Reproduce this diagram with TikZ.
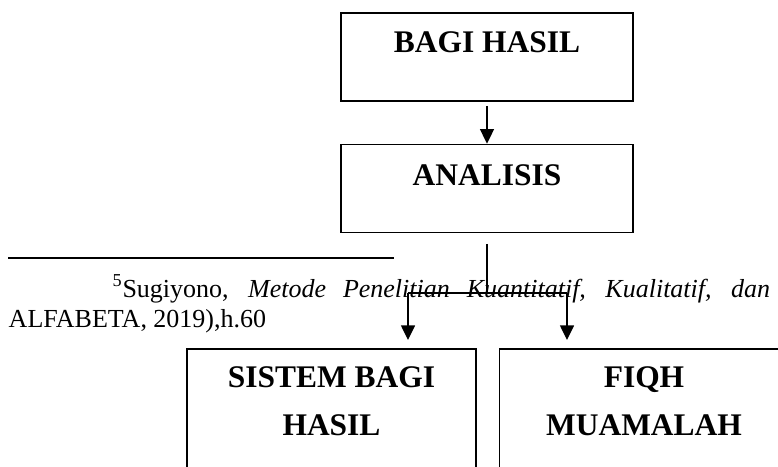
\documentclass[tikz,border=0pt]{standalone}
\usepackage{fontspec}
\setmainfont{Liberation Serif}
\usetikzlibrary{arrows.meta}
\tikzset{%
    >={Triangle[length=11pt,width=10.5pt]},
    kotak/.style={draw,line width=1.2pt,minimum width=219pt,minimum height=66pt,inner sep=0pt},
    kotakbawah/.style={kotak,minimum width=217pt,minimum height=105pt},
    judul/.style={font=\fontsize{23.6}{28}\selectfont\bfseries,anchor=base,inner sep=0pt},
    catatan/.style={font=\fontsize{19.5}{23}\selectfont,anchor=base west,inner sep=0pt}
}

\begin{document}
\begin{tikzpicture}[x=0.75pt,y=-0.75pt,line width=1.1pt]
    \useasboundingbox (0,0) rectangle (778,467);
    \clip (0,0) rectangle (778,467);

    % kotak atas
    \node[kotak] (bagi) at (487,57) {};
    \node[judul] (bagiteks) at (487,53) {BAGI HASIL};
    \node[kotak] (analisis) at (487,188.5) {};
    \node[judul] (analisisteks) at (487,185) {ANALISIS};

    \draw[->,shorten <=3pt] (bagi.south) -- (analisis.north);

    % catatan kaki
    \draw (8,258) -- (394,258);
    \node[catatan] (sumber) at (112,297) {\makebox[493pt][s]{\textsuperscript{5}Sugiyono, \textit{Metode Penelitian Kuantitatif, Kualitatif, dan}}};
    \node[catatan] (terbit) at (8,327) {ALFABETA, 2019),h.60};

    % cabang
    \coordinate (cabang) at (487,293);
    \coordinate (kiri) at (408,293);
    \coordinate (kanan) at (567,293);
    \coordinate (ujungkiri) at (408,340);
    \coordinate (ujungkanan) at (567,340);
    \draw[shorten <=8pt] (analisis.south) -- (cabang);
    \draw (kiri) -- (kanan);
    \draw[->] (kiri) -- (ujungkiri);
    \draw[->] (kanan) -- (ujungkanan);

    % kotak bawah
    \node[kotakbawah] (sistem) at (331.5,419) {};
    \node[judul,align=center] (sistemteks) at (331.5,435) {SISTEM BAGI\\[8pt]HASIL};
    \node[kotakbawah] (fiqh) at (644,419) {};
    \node[judul,align=center] (fiqhteks) at (644,435) {FIQH\\[8pt]MUAMALAH};
\end{tikzpicture}
\end{document}
